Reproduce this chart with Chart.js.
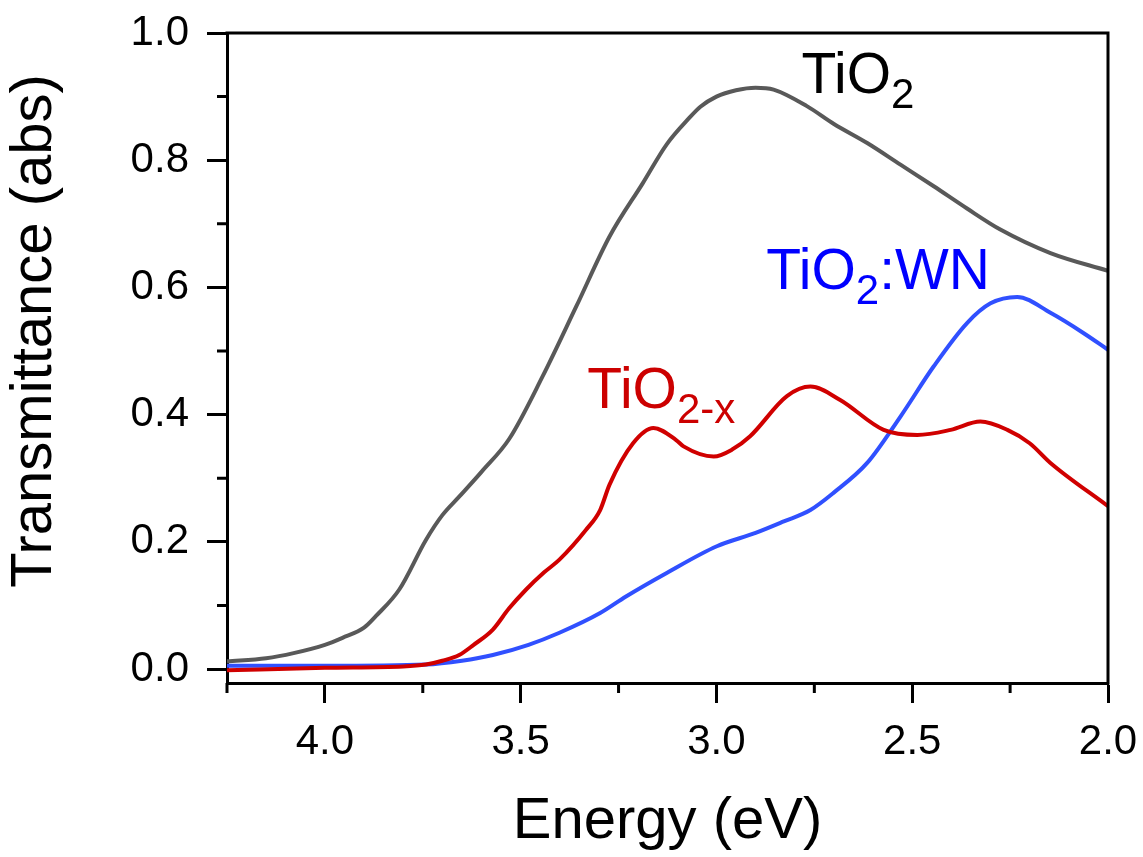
<!DOCTYPE html>
<html>
<head>
<meta charset="utf-8">
<script src="https://cdn.jsdelivr.net/npm/chart.js@4/dist/chart.umd.min.js"></script>
<style>
  html, body { margin: 0; padding: 0; background: #ffffff; }
  #wrap { width: 1143px; height: 857px; }
</style>
</head>
<body>
<div id="wrap"><canvas id="c" width="1143" height="857"></canvas></div>
<script>
// ---- data ----
const energyTiO2 = [4.25, 4.15, 4.08, 4.0, 3.955, 3.90, 3.87, 3.81, 3.742, 3.70, 3.657, 3.60, 3.529, 3.444, 3.358, 3.273, 3.188, 3.127, 3.07, 3.041, 3.0, 2.95, 2.90, 2.854, 2.769, 2.70, 2.615, 2.53, 2.445, 2.36, 2.275, 2.147, 2.0];
const absTiO2    = [0.012, 0.017, 0.025, 0.038, 0.049, 0.065, 0.083, 0.125, 0.203, 0.242, 0.271, 0.31, 0.362, 0.46, 0.57, 0.68, 0.764, 0.825, 0.866, 0.884, 0.9, 0.91, 0.914, 0.911, 0.885, 0.857, 0.827, 0.793, 0.759, 0.724, 0.691, 0.654, 0.626];

const energyTiO2x = [4.25, 4.0, 3.80, 3.742, 3.70, 3.657, 3.62, 3.571, 3.53, 3.486, 3.44, 3.401, 3.333, 3.297, 3.273, 3.213, 3.161, 3.103, 3.084, 3.007, 2.96, 2.914, 2.82, 2.76, 2.684, 2.573, 2.487, 2.402, 2.326, 2.257, 2.20, 2.147, 2.0];
const absTiO2x    = [-0.002, 0.002, 0.004, 0.007, 0.013, 0.022, 0.038, 0.062, 0.095, 0.125, 0.152, 0.172, 0.219, 0.25, 0.29, 0.355, 0.379, 0.36, 0.35, 0.334, 0.345, 0.366, 0.429, 0.444, 0.423, 0.376, 0.368, 0.376, 0.389, 0.376, 0.355, 0.324, 0.256];

const energyWN = [4.25, 4.0, 3.742, 3.65, 3.571, 3.48, 3.401, 3.297, 3.231, 3.127, 2.999, 2.90, 2.828, 2.76, 2.701, 2.615, 2.53, 2.445, 2.36, 2.30, 2.232, 2.147, 2.062, 2.0];
const absWN    = [0.005, 0.005, 0.007, 0.013, 0.022, 0.038, 0.057, 0.088, 0.114, 0.151, 0.193, 0.214, 0.232, 0.25, 0.277, 0.324, 0.397, 0.476, 0.544, 0.575, 0.585, 0.56, 0.528, 0.502];

const xMajorTicks = [4.0, 3.5, 3.0, 2.5, 2.0];
const xMinorTicks = [4.25, 3.75, 3.25, 2.75, 2.25];
const yMajorTicks = [0.0, 0.2, 0.4, 0.6, 0.8, 1.0];
const yMinorTicks = [0.1, 0.3, 0.5, 0.7, 0.9];

const xTitle = 'Energy (eV)';
const yTitle = 'Transmittance (abs)';

const FONT = "'Liberation Sans', Arial, Helvetica, sans-serif";

function pts(xs, ys) { return xs.map((x, i) => ({ x: x, y: ys[i] })); }

function zeroPad(s) { s.paddingTop = 0; s.paddingBottom = 0; s.paddingLeft = 0; s.paddingRight = 0; }

// frame (top/right), minor ticks, y title
const framePlugin = {
  id: 'frame',
  afterDraw(chart) {
    const { ctx, chartArea: a, scales } = chart;
    ctx.save();
    ctx.strokeStyle = '#000';
    ctx.lineWidth = 3;
    ctx.lineCap = 'butt';
    ctx.beginPath();
    ctx.moveTo(a.left - 1.5, a.top);
    ctx.lineTo(a.right, a.top);
    ctx.lineTo(a.right, a.bottom + 1.5);
    ctx.stroke();
    ctx.beginPath();
    xMinorTicks.forEach(v => {
      const px = scales.x.getPixelForValue(v);
      ctx.moveTo(px, a.bottom);
      ctx.lineTo(px, a.bottom + 10);
    });
    yMinorTicks.forEach(v => {
      const py = scales.y.getPixelForValue(v);
      ctx.moveTo(a.left, py);
      ctx.lineTo(a.left - 10, py);
    });
    ctx.stroke();
    // y axis title
    ctx.translate(35, 331);
    ctx.rotate(-Math.PI / 2);
    ctx.fillStyle = '#000';
    ctx.font = '58px ' + FONT;
    ctx.textAlign = 'center';
    ctx.textBaseline = 'middle';
    ctx.fillText(yTitle, 0, 0);
    ctx.restore();
  }
};

// curve labels with subscripts
const labelPlugin = {
  id: 'curveLabels',
  afterDatasetsDraw(chart, args, opts) {
    const { ctx, scales } = chart;
    ctx.save();
    ctx.textBaseline = 'alphabetic';
    ctx.textAlign = 'left';
    opts.items.forEach(it => {
      let x = scales.x.getPixelForValue(it.x);
      const y = scales.y.getPixelForValue(it.y);
      ctx.fillStyle = it.color;
      it.parts.forEach(p => {
        const sub = p[1];
        ctx.font = (sub ? '42px ' : '57px ') + FONT;
        ctx.fillText(p[0], x, sub ? y + 15 : y);
        x += ctx.measureText(p[0]).width;
      });
    });
    ctx.restore();
  }
};

new Chart(document.getElementById('c'), {
  type: 'line',
  data: {
    datasets: [
      { label: 'TiO2-x', data: pts(energyTiO2x, absTiO2x), borderColor: '#d00000', order: 1 },
      { label: 'TiO2:WN', data: pts(energyWN, absWN), borderColor: '#3050ff', order: 2 },
      { label: 'TiO2', data: pts(energyTiO2, absTiO2), borderColor: '#595959', order: 3 }
    ]
  },
  options: {
    responsive: false,
    animation: false,
    devicePixelRatio: 1,
    layout: { padding: { top: 33, right: 35, bottom: 0, left: 0 } },
    elements: {
      point: { radius: 0 },
      line: { borderWidth: 4, cubicInterpolationMode: 'monotone', fill: false }
    },
    plugins: {
      legend: { display: false },
      tooltip: { enabled: false },
      curveLabels: {
        items: [
          { x: 2.783, y: 0.906, color: '#000000', parts: [['TiO', false], ['2', true]] },
          { x: 2.873, y: 0.597, color: '#0000ff', parts: [['TiO', false], ['2', true], [':WN', false]] },
          { x: 3.33, y: 0.411, color: '#cc0000', parts: [['TiO', false], ['2-x', true]] }
        ]
      }
    },
    scales: {
      x: {
        type: 'linear',
        position: 'bottom',
        reverse: true,
        min: 2.0,
        max: 4.25,
        afterBuildTicks: s => { s.ticks = xMajorTicks.map(v => ({ value: v })); },
        afterFit: s => { s.height = 857 - 683; zeroPad(s); },
        ticks: {
          callback: v => Number(v).toFixed(1),
          font: { family: FONT, size: 42 },
          color: '#000',
          padding: 14,
          maxRotation: 0,
          autoSkip: false
        },
        grid: { drawOnChartArea: false, drawTicks: true, tickLength: 20, tickWidth: 3, tickColor: '#000' },
        border: { display: true, width: 3, color: '#000' },
        title: { display: true, text: xTitle, color: '#000', font: { family: FONT, size: 58 }, padding: 0 }
      },
      y: {
        type: 'linear',
        position: 'left',
        min: -0.022,
        max: 1.0,
        afterBuildTicks: s => { s.ticks = yMajorTicks.map(v => ({ value: v })); },
        afterFit: s => { s.width = 227; zeroPad(s); },
        ticks: {
          callback: v => Math.abs(v) < 1e-9 ? '0.0' : Number(v).toFixed(1),
          font: { family: FONT, size: 42 },
          color: '#000',
          padding: 18
        },
        grid: { drawOnChartArea: false, drawTicks: true, tickLength: 20, tickWidth: 3, tickColor: '#000' },
        border: { display: true, width: 3, color: '#000' },
        title: { display: false }
      }
    }
  },
  plugins: [framePlugin, labelPlugin]
});
</script>
</body>
</html>
